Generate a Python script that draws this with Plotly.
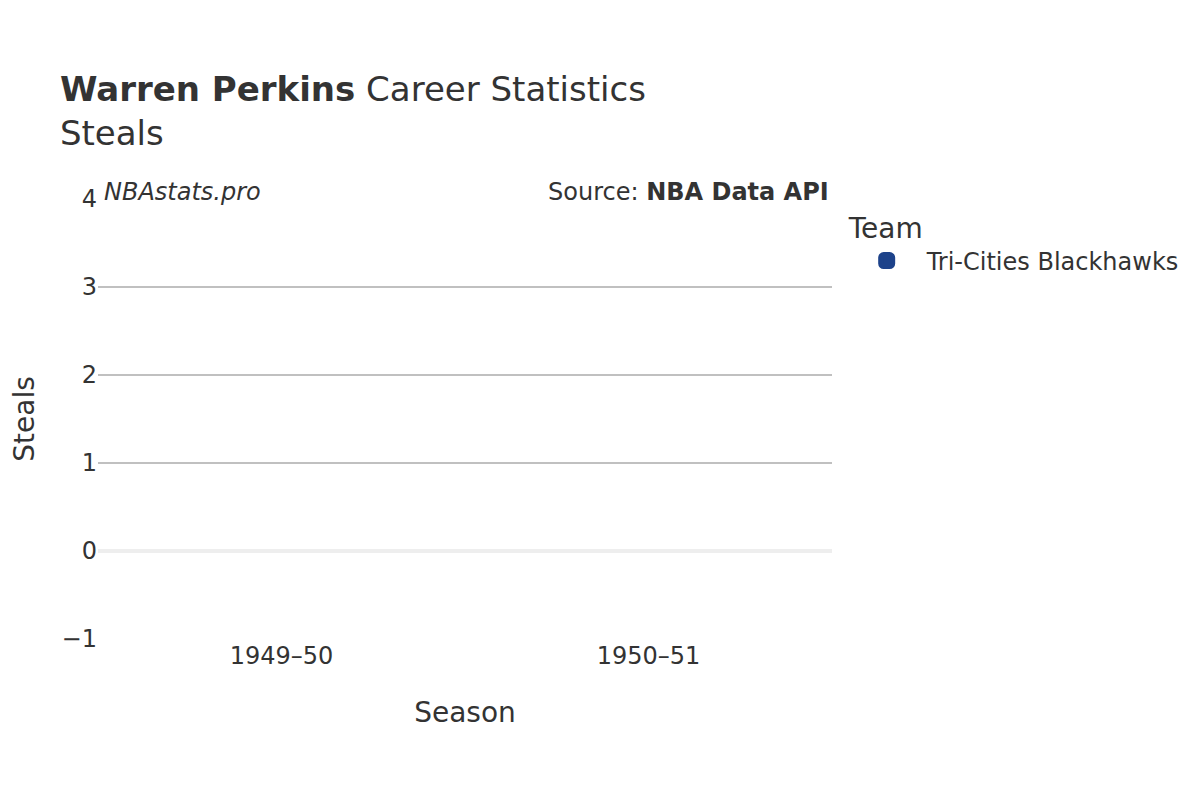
import plotly.graph_objects as go

seasons = ["1949–50", "1950–51"]
steals = [None, None]
team = "Tri-Cities Blackhawks"
team_color = "#1d428a"

fig = go.Figure()

fig.add_trace(go.Bar(
    x=seasons,
    y=steals,
    name=team,
    marker=dict(color=team_color, line=dict(color=team_color, width=12), cornerradius=6),
    showlegend=True
))

fig.update_layout(
    width=1200,
    height=800,
    font=dict(family="DejaVu Sans", color="#333333", size=24),
    title=dict(
        text="<b>Warren Perkins</b> Career Statistics<br>Steals",
        x=0.0433, xanchor="left", y=0.884, yanchor="top",
        font=dict(size=34, color="#333333")
    ),
    plot_bgcolor="white",
    paper_bgcolor="white",
    margin=dict(l=90, r=376, t=191, b=169),
    legend=dict(
        title=dict(text="Team", font=dict(size=28)),
        font=dict(size=24),
        itemwidth=70,
        x=1.02, y=0.993, xanchor="left", yanchor="top"
    ),
    annotations=[
        dict(text="<i>NBAstats.pro</i>", xref="paper", yref="paper",
             x=0.006, y=1.016, xanchor="left", yanchor="middle",
             showarrow=False, font=dict(size=24)),
        dict(text="Source: <b>NBA Data API</b>", xref="paper", yref="paper",
             x=0.999, y=1.016, xanchor="right", yanchor="middle",
             showarrow=False, font=dict(size=24)),
    ]
)

fig.update_xaxes(
    type="category",
    title=dict(text="Season", font=dict(size=28), standoff=33),
    automargin=False,
    showgrid=False,
    showline=False,
    ticks=""
)
fig.update_yaxes(
    title=dict(text="Steals", font=dict(size=28), standoff=36),
    automargin=False,
    range=[-1, 4],
    dtick=1,
    showgrid=True,
    gridcolor="#c0c0c0",
    gridwidth=1.5,
    zeroline=True,
    zerolinecolor="#eeeeee",
    zerolinewidth=4,
    showline=False,
    ticks=""
)

fig.write_html("out.html")
